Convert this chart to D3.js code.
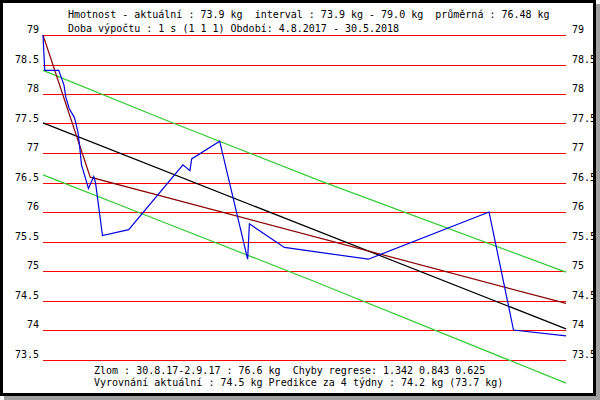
<!DOCTYPE html>
<html lang="cs">
  <head>
    <meta charset="utf-8" />
    <title>Hmotnost</title>
    <script src="https://cdn.jsdelivr.net/npm/d3@7"></script>
    <style>
      body { margin: 0; background: #fff; }
      svg text { font-family: "DejaVu Sans Mono", "Liberation Mono", monospace; font-size: 10px; fill: #000; white-space: pre; }
      .grid line { stroke: #ff0000; shape-rendering: crispEdges; }
      .axis path.domain { display: none; }
      .axis line { display: none; }
      path.line { fill: none; stroke-width: 1.2px; }
    </style>
  </head>
  <body>
    <script>
      // measured weights
      const dates = ["2017-08-04", "2017-08-05", "2017-08-13", "2017-08-16", "2017-08-17",
        "2017-08-19", "2017-08-22", "2017-08-24", "2017-08-25", "2017-08-26", "2017-08-30",
        "2017-09-02", "2017-09-03", "2017-09-07", "2017-09-22", "2017-10-23", "2017-10-27",
        "2017-10-28", "2017-11-13", "2017-11-29", "2017-11-30", "2017-12-20", "2018-02-06",
        "2018-04-16", "2018-04-30", "2018-05-30"];
      const weights = [79.0, 78.4, 78.4, 78.15, 77.95, 77.75, 77.6, 77.35, 77.1, 76.8, 76.4,
        76.6, 76.5, 75.6, 75.7, 76.8, 76.7, 76.9, 77.2, 75.2, 75.8, 75.4, 75.2, 76.0, 74.0, 73.9];

      // regression (black)
      const trendDates = ["2017-08-04", "2018-05-30"];
      const trendValues = [77.51, 74.02];
      // broken regression (dark red), break 30.8.17-2.9.17
      const brokenDates = ["2017-08-04", "2017-08-31", "2018-05-30"];
      const brokenValues = [79.0, 76.59, 74.45];
      // band (green)
      const upperDates = ["2017-08-04", "2017-10-13", "2018-01-11", "2018-05-30"];
      const upperValues = [78.4, 77.56, 76.51, 74.98];
      const lowerDates = ["2017-08-04", "2017-10-04", "2018-01-03", "2018-05-30"];
      const lowerValues = [76.63, 75.92, 74.86, 73.1];

      const yTicks = [79, 78.5, 78, 77.5, 77, 76.5, 76, 75.5, 75, 74.5, 74, 73.5];

      const header = [
        "Hmotnost - aktuální : 73.9 kg  interval : 73.9 kg - 79.0 kg  průměrná : 76.48 kg",
        "Doba výpočtu : 1 s (1 1 1) Období: 4.8.2017 - 30.5.2018"
      ];
      const footer = [
        "Zlom : 30.8.17-2.9.17 : 76.6 kg  Chyby regrese: 1.342 0.843 0.625",
        "Vyrovnání aktuální : 74.5 kg Predikce za 4 týdny : 74.2 kg (73.7 kg)"
      ];

      const w = 600, h = 400;
      const plotL = 43, plotR = 566, plotT = 35, plotB = 359.5;
      const parse = d3.timeParse("%Y-%m-%d");

      const svg = d3.select("body").append("svg").attr("width", w).attr("height", h);

      const x = d3.scaleTime()
        .domain([parse(dates[0]), parse(dates[dates.length - 1])])
        .range([plotL, plotR]);
      const y = d3.scaleLinear().domain([73.5, 79]).range([plotB, plotT]);

      // red gridlines
      svg.append("g")
        .attr("class", "grid")
        .selectAll("line")
        .data(yTicks)
        .join("line")
        .attr("x1", plotL)
        .attr("x2", plotR)
        .attr("y1", d => Math.round(y(d)) + 0.5)
        .attr("y2", d => Math.round(y(d)) + 0.5);

      const fmt = d3.format("");
      svg.append("g")
        .attr("class", "axis")
        .attr("transform", `translate(${plotL},0)`)
        .call(d3.axisLeft(y).tickValues(yTicks).tickSize(0).tickPadding(4).tickFormat(fmt));
      svg.append("g")
        .attr("class", "axis")
        .attr("transform", `translate(${plotR},0)`)
        .call(d3.axisRight(y).tickValues(yTicks).tickSize(0).tickPadding(6).tickFormat(fmt));
      svg.selectAll(".axis").attr("font-size", null).attr("font-family", null);
      svg.selectAll(".axis text").attr("dy", "-0.25em");

      function drawLine(ds, vs, color) {
        const pts = ds.map((d, i) => [parse(d), vs[i]]);
        svg.append("path")
          .attr("class", "line")
          .attr("stroke", color)
          .attr("d", d3.line().x(d => x(d[0])).y(d => y(d[1]))(pts));
      }

      drawLine(upperDates, upperValues, "#33cc33");
      drawLine(lowerDates, lowerValues, "#33cc33");
      drawLine(trendDates, trendValues, "#000000");
      drawLine(brokenDates, brokenValues, "#8b0000");
      drawLine(dates, weights, "#0000dd");

      svg.selectAll("text.head")
        .data(header)
        .join("text")
        .attr("class", "head")
        .attr("x", 68)
        .attr("y", (d, i) => 18 + i * 14)
        .text(d => d);

      svg.selectAll("text.foot")
        .data(footer)
        .join("text")
        .attr("class", "foot")
        .attr("x", 94)
        .attr("y", (d, i) => 374 + i * 12)
        .text(d => d);

      // frame with shadow
      svg.append("rect").attr("x", 596).attr("y", 4).attr("width", 4).attr("height", 396).attr("fill", "#a0a0a0");
      svg.append("rect").attr("x", 4).attr("y", 396).attr("width", 596).attr("height", 4).attr("fill", "#a0a0a0");
      svg.append("rect")
        .attr("x", 1.5).attr("y", 1.5)
        .attr("width", 593).attr("height", 393)
        .attr("fill", "none")
        .attr("stroke", "#000")
        .attr("stroke-width", 3);
    </script>
  </body>
</html>
